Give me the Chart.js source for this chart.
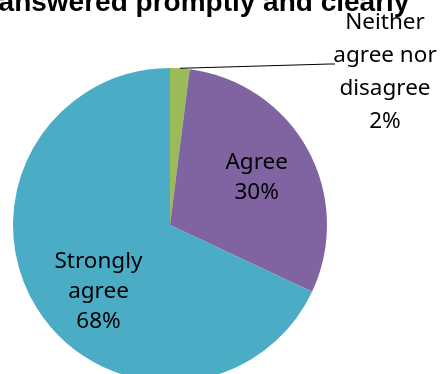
<!DOCTYPE html>
<html>
<head>
<meta charset="utf-8">
<script src="https://cdn.jsdelivr.net/npm/chart.js@4"></script>
<style>
  html, body { margin: 0; padding: 0; background: #fff; }
  #wrap { width: 441px; height: 374px; overflow: hidden; position: relative; }
  canvas { position: absolute; left: 0; top: 0; }
</style>
</head>
<body>
<div id="wrap"><canvas id="pieChart" width="441" height="400"></canvas></div>
<script>
// Réponses à la question
const categories = ["Neither agree nor disagree", "Agree", "Strongly agree"];
const percents = [2, 30, 68];
const labelLines = [["Neither", "agree nor", "disagree"], ["Agree"], ["Strongly", "agree"]];
const colors = ["#9BBB59", "#8064A2", "#4BACC6"];

const titleText = "answered promptly and clearly";
const labelFont = "22.5px 'Noto Sans'";

// Étiquettes dans les parts, ou à l'extérieur avec un trait de rappel
const sliceLabels = {
    id: "sliceLabels",
    afterDraw(chart) {
        const ctx = chart.ctx;
        const arcs = chart.getDatasetMeta(0).data;
        ctx.save();
        ctx.font = labelFont;
        ctx.fillStyle = "#000";
        ctx.textAlign = "center";
        ctx.textBaseline = "middle";
        arcs.forEach((arc, i) => {
            const lines = labelLines[i].concat([percents[i] + "%"]);
            const mid = (arc.startAngle + arc.endAngle) / 2;
            let cx, cy, lineH = 30;
            if (i === 0) {
                // étiquette extérieure
                cx = 385; cy = 72; lineH = 33;
                const ex = arc.x + Math.cos(mid) * arc.outerRadius;
                const ey = arc.y + Math.sin(mid) * arc.outerRadius;
                ctx.strokeStyle = "#000";
                ctx.lineWidth = 1;
                ctx.beginPath();
                ctx.moveTo(ex, ey);
                ctx.lineTo(330, 64);
                ctx.lineTo(335, 64);
                ctx.stroke();
            } else {
                const r = arc.outerRadius * 0.63;
                cx = arc.x + Math.cos(mid) * r;
                cy = arc.y + Math.sin(mid) * r;
                if (i === 2) { cx += 12; cy += 14; }
            }
            lines.forEach((t, k) => {
                ctx.fillText(t, cx, cy + (k - (lines.length - 1) / 2) * lineH);
            });
        });
        // titre, coupé en haut
        ctx.font = "bold 28px 'Liberation Sans'";
        ctx.textBaseline = "alphabetic";
        ctx.fillText(titleText, 204, 11);
        ctx.restore();
    }
};

new Chart(document.getElementById("pieChart"), {
    type: "pie",
    data: {
        labels: categories,
        datasets: [{
            data: percents,
            backgroundColor: colors,
            borderWidth: 0,
        }],
    },
    options: {
        responsive: false,
        animation: false,
        layout: { padding: { left: 13, right: 114, top: 68, bottom: 18 } },
        plugins: {
            legend: { display: false },
            tooltip: { enabled: false },
        },
    },
    plugins: [sliceLabels],
});
</script>
</body>
</html>
